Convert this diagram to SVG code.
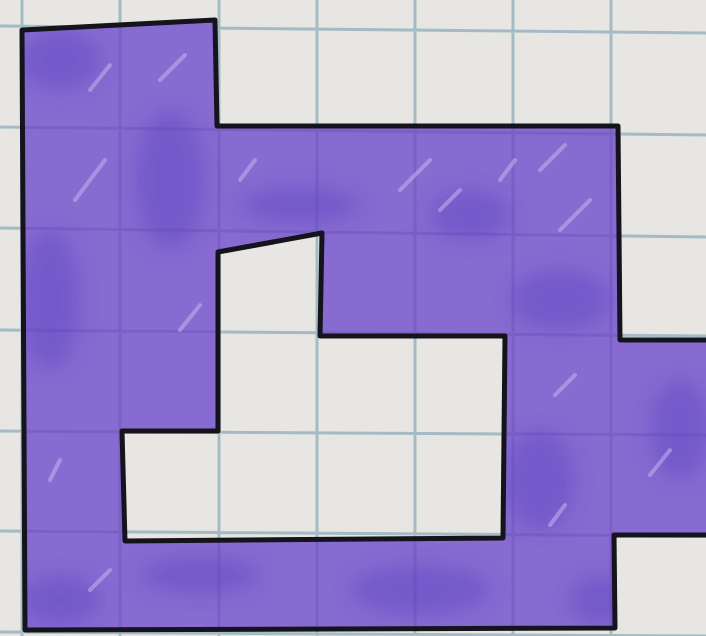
<svg xmlns="http://www.w3.org/2000/svg" width="706" height="636" viewBox="0 0 706 636">
<defs>
<style>
.grid{stroke:#a3bcc4;stroke-width:3;fill:none}
.gridin{stroke:#5e46b0;stroke-width:3;fill:none;opacity:0.3}
.outline{fill:none;stroke:#15131c;stroke-width:5;stroke-linejoin:round;stroke-linecap:round}
.streak{stroke:#c9bbf0;stroke-width:4;stroke-linecap:round;opacity:0.5}
.dark{fill:#5a3dc0;opacity:0.4}
</style>
<filter id="soft" x="-20%" y="-20%" width="140%" height="140%">
<feGaussianBlur stdDeviation="10"/>
</filter>
<clipPath id="shapeClip">
<path clip-rule="evenodd" d="M22 30 L215 20 L217 126 L618 126 L620 340 L706 340 L706 535 L614 535 L615 628 L25 630 Z M218 252 L322 233 L320 336 L505 336 L503 538 L125 541 L122 431 L218 431 Z"/>
</clipPath>
</defs>
<rect width="706" height="636" fill="#e8e6e3"/>
<g id="grid">
<path class="grid" d="M22 0 V636 M120 0 V636 M219 0 V636 M317 0 V636 M415 0 V636 M513 0 V636 M611 0 V636 M0 26 L706 33 M0 127 L706 135 M0 228 L706 237 M0 330 L706 336 M0 431 L706 435 M0 531 L706 536 M0 632 L706 636"/>
</g>
<g id="shape">
<path fill="#876bd1" fill-rule="evenodd" d="M22 30 L215 20 L217 126 L618 126 L620 340 L706 340 L706 535 L614 535 L615 628 L25 630 Z M218 252 L322 233 L320 336 L505 336 L503 538 L125 541 L122 431 L218 431 Z"/>
<g clip-path="url(#shapeClip)">
<g filter="url(#soft)">
<ellipse class="dark" cx="60" cy="60" rx="40" ry="30"/>
<ellipse class="dark" cx="170" cy="180" rx="35" ry="70"/>
<ellipse class="dark" cx="50" cy="300" rx="30" ry="70"/>
<ellipse class="dark" cx="300" cy="205" rx="60" ry="18"/>
<ellipse class="dark" cx="470" cy="215" rx="40" ry="25"/>
<ellipse class="dark" cx="560" cy="300" rx="50" ry="30"/>
<ellipse class="dark" cx="540" cy="480" rx="35" ry="50"/>
<ellipse class="dark" cx="680" cy="430" rx="30" ry="50"/>
<ellipse class="dark" cx="420" cy="590" rx="70" ry="25"/>
<ellipse class="dark" cx="200" cy="575" rx="60" ry="18"/>
<ellipse class="dark" cx="60" cy="600" rx="40" ry="25"/>
<ellipse class="dark" cx="600" cy="600" rx="30" ry="25"/>
</g>
<path class="gridin" d="M120 0 V636 M219 0 V636 M317 0 V636 M415 0 V636 M513 0 V636 M611 0 V636 M0 127 L706 135 M0 228 L706 237 M0 330 L706 336 M0 431 L706 435 M0 531 L706 536"/>
<path class="streak" d="M90 90 L110 65 M75 200 L105 160 M160 80 L185 55 M540 170 L565 145 M400 190 L430 160 M500 180 L515 160 M560 230 L590 200 M555 395 L575 375 M550 525 L565 505 M650 475 L670 450 M180 330 L200 305 M50 480 L60 460 M90 590 L110 570 M440 210 L460 190 M240 180 L255 160"/>
</g>
<path class="outline" d="M706 535 L614 535 L615 628 L25 630 L22 30 L215 20 L217 126 L618 126 L620 340 L706 340"/>
<path class="outline" d="M218 252 L322 233 L320 336 L505 336 L503 538 L125 541 L122 431 L218 431 Z"/>
</g>
</svg>
